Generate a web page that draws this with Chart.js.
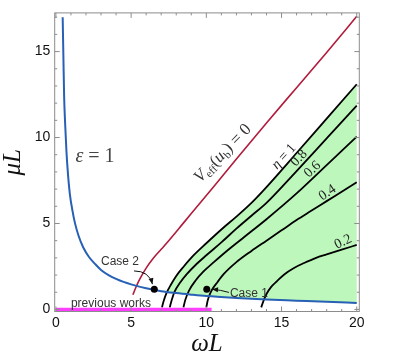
<!DOCTYPE html>
<html>
<head>
<meta charset="utf-8">
<script src="https://cdn.jsdelivr.net/npm/chart.js@4.4.1/dist/chart.umd.min.js"></script>
<style>
html,body{margin:0;padding:0;background:#fff;}
#wrap{width:415px;height:358px;position:relative;}
</style>
</head>
<body>
<div id="wrap"><canvas id="chart"></canvas></div>
<script>
// tick labels
const xTicks = [0, 5, 10, 15, 20];
const yTicks = [0, 5, 10, 15];

// epsilon = 1 curve
const epsOmega = [0.45,0.5,0.55,0.62,0.7,0.8,0.93,1.1,1.26,1.5,1.82,2.2,2.6,3.0,3.5,4.0,4.5,5,6,7,8,9,10,12,14,16,18,20];
const epsMu    = [17.0,14.6,12.3,10.7,9.2,7.9,6.7,5.75,5.05,4.3,3.6,3.05,2.65,2.3,2.0,1.78,1.6,1.46,1.23,1.06,0.95,0.86,0.78,0.67,0.58,0.51,0.44,0.38];

// V_eff(u_b) = 0 curve
const vOmega = [5.12,5.3,5.6,6.0,6.5,7.0,7.5,8.5,9.5,10.5,12,14,16,18,20];
const vMu    = [0.85,1.25,1.8,2.4,3.0,3.5,4.0,5.05,6.1,7.15,8.75,10.85,12.9,14.95,17.05];

// eta contours
const eta1Omega  = [7.05,7.15,7.35,7.65,8.0,8.5,9.1,10,11,12,13,14,16,18,20];
const eta1Mu     = [0.12,0.45,0.95,1.45,1.95,2.5,3.1,3.85,4.65,5.4,6.2,7.12,9.1,11.1,13.1];
const eta08Omega = [7.57,7.7,7.9,8.25,8.7,9.3,10,11,12,13,14,16,18,20];
const eta08Mu    = [0.12,0.55,1.05,1.55,2.05,2.6,3.15,3.9,4.7,5.45,6.2,8.05,9.95,11.85];
const eta06Omega = [8.48,8.6,8.85,9.3,9.8,10.5,11.5,12.5,14,16,18,20];
const eta06Mu    = [0.12,0.55,1.1,1.7,2.2,2.75,3.5,4.2,5.25,6.75,8.4,10.05];
const eta04Omega = [10.0,10.1,10.35,10.75,11.15,12,13,14,15,16,17,18,19,20];
const eta04Mu    = [0.12,0.55,1.1,1.6,2.05,2.75,3.4,4.0,4.6,5.2,5.75,6.3,6.85,7.4];
const eta02Omega = [13.65,13.8,14.0,14.3,14.7,15.2,15.8,16.5,17.3,18.0,19.0,20];
const eta02Mu    = [0.12,0.5,0.9,1.3,1.65,2.05,2.4,2.7,3.0,3.2,3.48,3.75];

// previous works segment
const prevOmega = [0, 10.35];
const prevMu    = [0, 0];

// cases
const caseNames = ["Case 1", "Case 2"];
const caseOmega = [10.03, 6.54];
const caseMu    = [1.18, 1.18];

function pts(xs, ys){ return xs.map(function(x,i){ return {x:x, y:ys[i]}; }); }

function blueAt(w){
  for(let i=1;i<epsOmega.length;i++){
    if(w<=epsOmega[i]){
      const t=(w-epsOmega[i-1])/(epsOmega[i]-epsOmega[i-1]);
      return epsMu[i-1]+t*(epsMu[i]-epsMu[i-1]);
    }
  }
  return epsMu[epsMu.length-1];
}

// green region: above eps curve, right of eta=1
function greenRegion(){
  const up = pts(eta1Omega, eta1Mu);
  let out = [];
  for(let i=1;i<up.length;i++){
    const a=up[i-1], b=up[i];
    const da=a.y-blueAt(a.x), db=b.y-blueAt(b.x);
    if(da<0 && db>=0){
      const t=da/(da-db);
      const xx=a.x+t*(b.x-a.x);
      out.push({x:xx, y:blueAt(xx)});
    }
    if(db>=0) out.push(b);
  }
  const x0 = out[0].x, xEnd = up[up.length-1].x;
  out.push({x:xEnd, y:blueAt(xEnd)});
  const low = pts(epsOmega, epsMu).filter(function(p){ return p.x>x0 && p.x<xEnd; }).reverse();
  return out.concat(low);
}

const serif = "'Liberation Serif', 'Times New Roman', serif";
const sans = "'Liberation Sans', Arial, sans-serif";

function richText(ctx, parts, x, y, angle){
  let w = 0;
  parts.forEach(function(p){ ctx.font = p.f; w += ctx.measureText(p.t).width; });
  ctx.save();
  ctx.translate(x, y);
  ctx.rotate(angle*Math.PI/180);
  ctx.textBaseline = "alphabetic";
  ctx.textAlign = "left";
  let cx = -w/2;
  parts.forEach(function(p){
    ctx.font = p.f;
    ctx.fillStyle = p.c || "#333";
    ctx.fillText(p.t, cx, (p.dy||0) + 5);
    cx += ctx.measureText(p.t).width;
  });
  ctx.restore();
}

function arrow(ctx, s, c, e){
  ctx.beginPath();
  ctx.moveTo(s[0], s[1]);
  ctx.quadraticCurveTo(c[0], c[1], e[0], e[1]);
  ctx.stroke();
  const ang = Math.atan2(e[1]-c[1], e[0]-c[0]);
  ctx.beginPath();
  ctx.moveTo(e[0], e[1]);
  ctx.lineTo(e[0]-6*Math.cos(ang)+2.5*Math.sin(ang), e[1]-6*Math.sin(ang)-2.5*Math.cos(ang));
  ctx.lineTo(e[0]-6*Math.cos(ang)-2.5*Math.sin(ang), e[1]-6*Math.sin(ang)+2.5*Math.cos(ang));
  ctx.closePath();
  ctx.fill();
}

const decor = {
  id: "decor",
  afterDatasetsDraw(chart){
    const ctx = chart.ctx, xs = chart.scales.x, ys = chart.scales.y, a = chart.chartArea;
    const P = function(x,y){ return [xs.getPixelForValue(x), ys.getPixelForValue(y)]; };
    ctx.save();

    // frame + inner ticks
    ctx.strokeStyle = "#8c8c8c";
    ctx.lineWidth = 1;
    ctx.strokeRect(a.left, a.top, a.right-a.left, a.bottom-a.top);
    ctx.beginPath();
    for(let v=0; v<=20; v++){
      const px = xs.getPixelForValue(v), len = v%5===0 ? 5 : 2.5;
      ctx.moveTo(px, a.bottom); ctx.lineTo(px, a.bottom-len);
      ctx.moveTo(px, a.top); ctx.lineTo(px, a.top+len);
    }
    for(let v=0; v<=17; v++){
      const py = ys.getPixelForValue(v), len = v%5===0 ? 5 : 2.5;
      ctx.moveTo(a.left, py); ctx.lineTo(a.left+len, py);
      ctx.moveTo(a.right, py); ctx.lineTo(a.right-len, py);
    }
    ctx.stroke();

    // curve labels
    let p = P(2.6, 8.89);
    richText(ctx, [{t:"ε", f:"italic 20px "+serif, c:"#444"}, {t:" = 1", f:"20px "+serif, c:"#444"}], p[0], p[1], 0);
    p = P(11.08, 9.09);
    richText(ctx, [
      {t:"V", f:"italic 17px "+serif},
      {t:"eff", f:"11px "+serif, dy:3},
      {t:"(", f:"17px "+serif},
      {t:"u", f:"italic 17px "+serif},
      {t:"b", f:"11px "+serif, dy:3},
      {t:")", f:"17px "+serif},
      {t:" = 0", f:"17px "+serif}
    ], p[0], p[1], -46);
    p = P(15.1, 8.95);
    richText(ctx, [{t:"η", f:"italic 14px "+serif, c:"#222"}, {t:" = 1", f:"14px "+serif, c:"#222"}], p[0], p[1], -48);
    p = P(16.1, 8.85);
    richText(ctx, [{t:"0.8", f:"14px "+serif, c:"#222"}], p[0], p[1], -47);
    p = P(17.0, 8.2);
    richText(ctx, [{t:"0.6", f:"14px "+serif, c:"#222"}], p[0], p[1], -43);
    p = P(18.0, 6.85);
    richText(ctx, [{t:"0.4", f:"14px "+serif, c:"#222"}], p[0], p[1], -34);
    p = P(19.05, 4.0);
    richText(ctx, [{t:"0.2", f:"14px "+serif, c:"#222"}], p[0], p[1], -25);

    // case annotations
    ctx.font = "12px "+sans;
    ctx.fillStyle = "#333";
    ctx.textBaseline = "middle";
    ctx.textAlign = "center";
    p = P(4.26, 2.75);
    ctx.fillText(caseNames[1], p[0], p[1]);
    p = P(3.66, 0.36);
    ctx.fillText("previous works", p[0], p[1]);
    ctx.textAlign = "left";
    p = P(11.57, 0.93);
    ctx.fillText(caseNames[0], p[0], p[1]);

    ctx.strokeStyle = "#111";
    ctx.fillStyle = "#111";
    ctx.lineWidth = 1;
    arrow(ctx, P(5.19, 2.24), P(6.19, 2.24), P(6.42, 1.47));
    arrow(ctx, P(11.5, 0.99), P(10.97, 1.13), P(10.38, 1.18));
    ctx.restore();
  }
};

new Chart(document.getElementById("chart"), {
  type: "line",
  data: {
    datasets: [
      {data: pts(prevOmega, prevMu), borderColor:"#ff3dff", borderWidth:3.5, pointRadius:0, order:1},
      {data: pts(caseOmega, caseMu), showLine:false, pointRadius:3.5, pointBackgroundColor:"#000", pointBorderWidth:0, order:0},
      {data: pts(epsOmega, epsMu), borderColor:"#2760b4", borderWidth:2, pointRadius:0, cubicInterpolationMode:"monotone", order:2},
      {data: pts(vOmega, vMu), borderColor:"#b01c3c", borderWidth:1.6, pointRadius:0, cubicInterpolationMode:"monotone", order:2},
      {data: pts(eta1Omega, eta1Mu), borderColor:"#000", borderWidth:1.8, pointRadius:0, cubicInterpolationMode:"monotone", order:2},
      {data: pts(eta08Omega, eta08Mu), borderColor:"#000", borderWidth:1.8, pointRadius:0, cubicInterpolationMode:"monotone", order:2},
      {data: pts(eta06Omega, eta06Mu), borderColor:"#000", borderWidth:1.8, pointRadius:0, cubicInterpolationMode:"monotone", order:2},
      {data: pts(eta04Omega, eta04Mu), borderColor:"#000", borderWidth:1.8, pointRadius:0, cubicInterpolationMode:"monotone", order:2},
      {data: pts(eta02Omega, eta02Mu), borderColor:"#000", borderWidth:1.8, pointRadius:0, cubicInterpolationMode:"monotone", order:2},
      {data: greenRegion(), borderWidth:0, borderColor:"rgba(0,0,0,0)", backgroundColor:"#bdf7bc", fill:"shape", pointRadius:0, tension:0, order:10}
    ]
  },
  options: {
    responsive: true,
    maintainAspectRatio: false,
    animation: false,
    layout: {padding: {left:0, right:55.7, top:6, bottom:0}},
    plugins: {legend:{display:false}, tooltip:{enabled:false}},
    scales: {
      x: {
        type: "linear", min: -0.08, max: 20.17,
        afterFit: function(s){ s.height = 46.5; },
        afterBuildTicks: function(s){ s.ticks = xTicks.map(function(v){ return {value:v}; }); },
        grid: {display:false, drawTicks:false},
        border: {display:false},
        ticks: {padding:3, color:"#111", maxRotation:0, font:{family:"Liberation Sans", size:14}},
        title: {display:true, text:"ωL", color:"#111", padding:{top:0, bottom:1.5}, font:{family:"Liberation Serif", style:"italic", size:25, lineHeight:1}}
      },
      y: {
        type: "linear", min: -0.12, max: 17.25,
        afterFit: function(s){ s.width = 54.7; },
        afterBuildTicks: function(s){ s.ticks = yTicks.map(function(v){ return {value:v}; }); },
        grid: {display:false, drawTicks:false},
        border: {display:false},
        ticks: {padding:4.5, color:"#111", font:{family:"Liberation Sans", size:14}},
        title: {display:true, text:"μL", color:"#111", padding:{top:0.5, bottom:0}, font:{family:"Liberation Serif", style:"italic", size:25, lineHeight:1}}
      }
    }
  },
  plugins: [decor]
});
</script>
</body>
</html>
